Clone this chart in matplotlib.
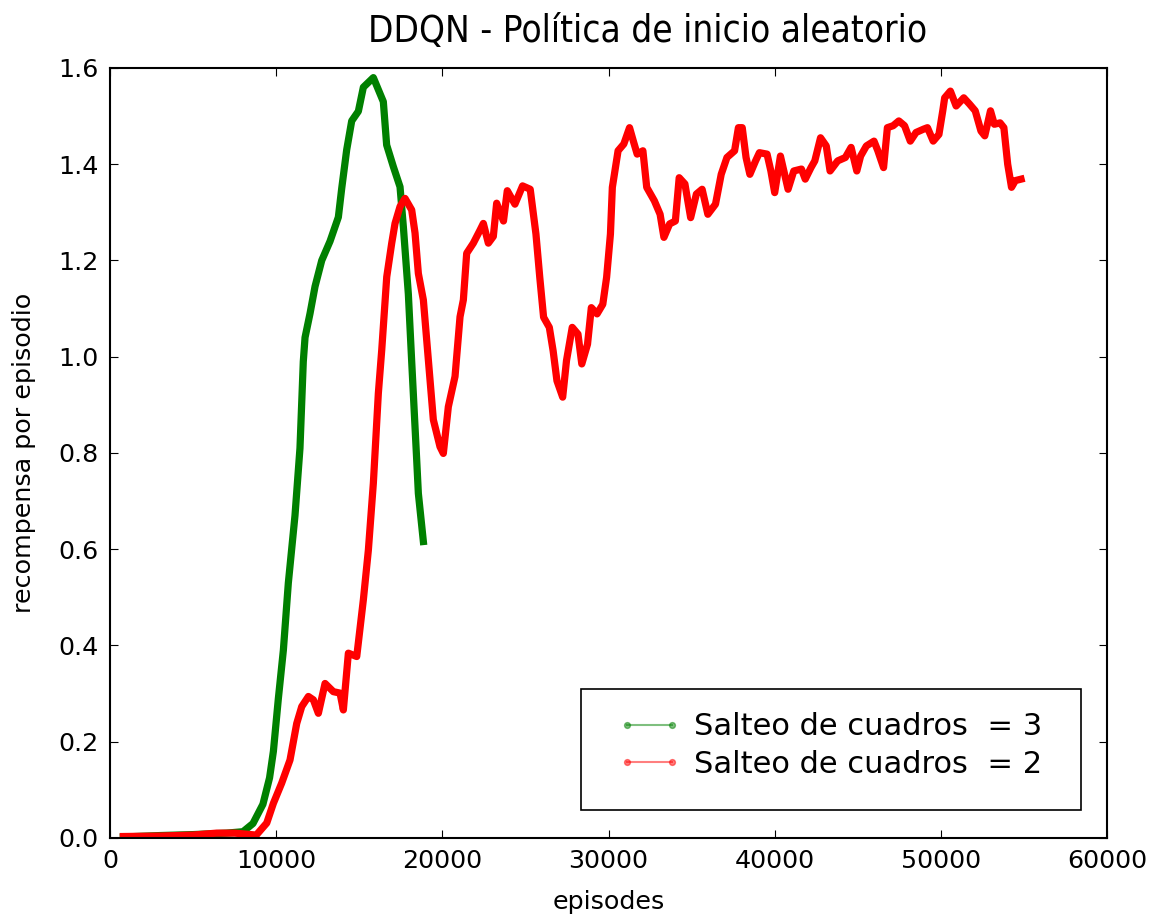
import matplotlib
matplotlib.use("Agg")
import matplotlib.pyplot as plt
from matplotlib.lines import Line2D
from matplotlib.patches import Rectangle
from matplotlib.legend_handler import HandlerLine2D

# ---- data ----
title = "DDQN - Política de inicio aleatorio"
xlabel = "episodes"
ylabel = "recompensa por episodio"
label_g = "Salteo de cuadros  = 3"
label_r = "Salteo de cuadros  = 2"

x_green = [800, 3000, 5000, 7000, 8000, 8600, 9200, 9600, 9830, 10130, 10430,
           10730, 11130, 11430, 11630, 11735, 12036, 12337, 12740, 13240, 13740,
           13943, 14242, 14544, 14944, 15245, 15846, 16447, 16647, 17049, 17452,
           17652, 17953, 18154, 18456, 18555, 18856]
y_green = [0.002, 0.005, 0.007, 0.010, 0.013, 0.030, 0.070, 0.125, 0.180, 0.290, 0.390,
           0.530, 0.670, 0.810, 0.990, 1.040, 1.090, 1.146, 1.200, 1.240, 1.290,
           1.350, 1.430, 1.490, 1.510, 1.560, 1.580, 1.530, 1.440, 1.395, 1.353,
           1.270, 1.130, 0.990, 0.785, 0.716, 0.616]

x_red = [800, 3000, 5000, 6400, 7500, 8800, 9430, 9830, 10330, 10830, 11235,
         11536, 11937, 12237, 12537, 12939, 13439, 13841, 14041, 14343, 14846,
         15245, 15546, 15846, 16147, 16351, 16652, 16952, 17151, 17452, 17753,
         18154, 18355, 18555, 18856, 19157, 19457, 19858, 20058, 20359, 20762,
         21063, 21263, 21464, 21864, 22266, 22466, 22767, 23067, 23268, 23678,
         23907, 24367, 24827, 25287, 25632, 25862, 26092, 26437, 26667, 26896,
         27241, 27471, 27816, 28161, 28391, 28736, 28965, 29310, 29655, 29885,
         30115, 30230, 30575, 30920, 31265, 31494, 31724, 32069, 32299, 32759,
         33104, 33334, 33679, 34023, 34253, 34598, 34943, 35288, 35633, 35978,
         36438, 36782, 37127, 37587, 37817, 38047, 38277, 38507, 38851, 39081,
         39541, 39771, 40001, 40346, 40575, 40805, 41150, 41610, 41840, 42185,
         42415, 42760, 43104, 43334, 43794, 44254, 44599, 44943, 45173, 45518,
         45978, 46208, 46553, 46783, 47127, 47472, 47817, 48162, 48507, 48966,
         49196, 49541, 49886, 50116, 50231, 50575, 50920, 51380, 51725, 52070,
         52415, 52645, 52989, 53219, 53564, 53794, 54024, 54254, 54484, 54829]
y_red = [0.003, 0.004, 0.006, 0.010, 0.010, 0.006, 0.031, 0.072, 0.114, 0.162, 0.238,
         0.273, 0.294, 0.287, 0.259, 0.321, 0.304, 0.301, 0.266, 0.384, 0.377,
         0.495, 0.598, 0.737, 0.924, 1.014, 1.166, 1.236, 1.277, 1.312, 1.329,
         1.305, 1.257, 1.173, 1.118, 0.993, 0.869, 0.813, 0.799, 0.896, 0.959,
         1.083, 1.118, 1.215, 1.236, 1.263, 1.277, 1.236, 1.250, 1.319, 1.282,
         1.345, 1.317, 1.355, 1.348, 1.255, 1.165, 1.082, 1.061, 1.012, 0.950,
         0.916, 0.992, 1.061, 1.047, 0.985, 1.026, 1.102, 1.089, 1.109, 1.165,
         1.255, 1.352, 1.428, 1.442, 1.476, 1.448, 1.421, 1.428, 1.352, 1.324,
         1.296, 1.248, 1.276, 1.282, 1.372, 1.359, 1.289, 1.338, 1.348, 1.296,
         1.317, 1.379, 1.414, 1.428, 1.476, 1.476, 1.414, 1.379, 1.407, 1.424,
         1.421, 1.386, 1.341, 1.417, 1.383, 1.348, 1.386, 1.390, 1.369, 1.393,
         1.407, 1.455, 1.438, 1.386, 1.407, 1.414, 1.435, 1.386, 1.417, 1.438,
         1.448, 1.428, 1.393, 1.476, 1.480, 1.490, 1.480, 1.448, 1.466, 1.473,
         1.476, 1.448, 1.462, 1.511, 1.538, 1.552, 1.521, 1.538, 1.525, 1.511,
         1.469, 1.459, 1.511, 1.483, 1.486, 1.476, 1.400, 1.352, 1.366, 1.369]

xticks = [0, 10000, 20000, 30000, 40000, 50000, 60000]
yticks = [0.0, 0.2, 0.4, 0.6, 0.8, 1.0, 1.2, 1.4, 1.6]

# ---- figure ----
plt.rcParams['font.family'] = ['DejaVu Sans']
FS = 18.3
LFS = 22

fig = plt.figure(figsize=(11.5, 9.15), dpi=100, facecolor='white')
ax = fig.add_axes([0.0957, 0.0842, 0.8669, 0.8415])

ax.plot(x_green, y_green, color=(0, 0.5, 0), linewidth=5.2)
ax.plot(x_red, y_red, color=(1, 0, 0), linewidth=5.2)

ax.set_xlim(0, 60000)
ax.set_ylim(0, 1.6)
ax.set_xticks(xticks)
ax.set_xticklabels([str(t) for t in xticks])
ax.set_yticks(yticks)
ax.set_yticklabels([f"{t:.1f}" for t in yticks])

ax.tick_params(direction='in', top=True, right=True, length=6, width=0.8,
               labelsize=FS, pad=8, colors='black')
for sp in ax.spines.values():
    sp.set_linewidth(1.5)
    sp.set_color('black')

ax.set_title(title, fontsize=26.5, fontstretch='condensed', pad=19, x=0.5396)
ax.set_xlabel(xlabel, fontsize=FS, labelpad=12)
ax.set_ylabel(ylabel, fontsize=FS, labelpad=16)

# legend frame (drawn as a rectangle in axes coordinates)
ax.add_patch(Rectangle((0.4724, 0.0364), 0.5015, 0.1571, transform=ax.transAxes,
                       facecolor='white', edgecolor='black', linewidth=1.2,
                       zorder=4))

handles = [
    Line2D([], [], color=(0, 0.5, 0), linewidth=1.5, marker='o', markersize=4.2, alpha=0.5),
    Line2D([], [], color=(1, 0, 0), linewidth=1.5, marker='o', markersize=4.2, alpha=0.5),
]
leg = ax.legend(handles, [label_g, label_r], loc='center left',
                bbox_to_anchor=(0.5186, 0.1201), fontsize=LFS, numpoints=2,
                frameon=False, borderpad=0.0, labelspacing=0.27,
                handlelength=1.47, handletextpad=0.72, borderaxespad=0.0,
                handler_map={Line2D: HandlerLine2D(marker_pad=0.0, numpoints=2)})
leg.set_zorder(5)

fig.savefig("out.png", dpi=100, facecolor='white')
